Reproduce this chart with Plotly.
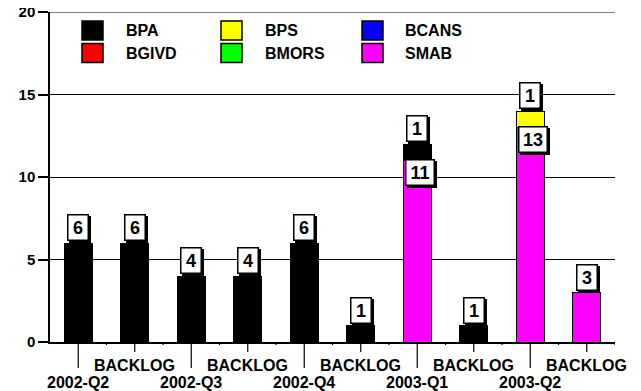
import plotly.graph_objects as go

CATEGORIES = ['2002-Q2', 'BACKLOG', '2002-Q3', 'BACKLOG', '2002-Q4',
              'BACKLOG', '2003-Q1', 'BACKLOG', '2003-Q2', 'BACKLOG']

# series values, one per category (stacking order bottom -> top)
SMAB = [0, 0, 0, 0, 0, 0, 11, 0, 13, 3]
BGIVD = [0, 0, 0, 0, 0, 0, 0, 0, 0, 0]
BMORS = [0, 0, 0, 0, 0, 0, 0, 0, 0, 0]
BCANS = [0, 0, 0, 0, 0, 0, 0, 0, 0, 0]
BPS = [0, 0, 0, 0, 0, 0, 0, 0, 1, 0]
BPA = [6, 6, 4, 4, 6, 1, 1, 1, 0, 0]

STACK_NAMES = ['SMAB', 'BGIVD', 'BMORS', 'BCANS', 'BPS', 'BPA']
STACK_VALUES = [SMAB, BGIVD, BMORS, BCANS, BPS, BPA]
COLORS = {'BPA': '#000000', 'BPS': '#ffff00', 'BCANS': '#0000ff',
          'BGIVD': '#ff0000', 'BMORS': '#00ff00', 'SMAB': '#ff00ff'}
LEGEND_ROWS = [['BPA', 'BPS', 'BCANS'], ['BGIVD', 'BMORS', 'SMAB']]

Y_TICKS = [0, 5, 10, 15, 20]

# the page body has an 8px margin, so the figure is shrunk by that much
PAGE_OFF = 8
W, H = 641 - PAGE_OFF, 391 - PAGE_OFF
L, R, T, B = 50 - PAGE_OFF, 26, 12 - PAGE_OFF, 49
PW, PH = W - L - R, H - T - B

FONT = 'Liberation Sans'


def px_x(p):
    # screen pixel -> paper x
    return (p - PAGE_OFF - L) / PW


def px_y(p):
    # screen pixel -> paper y
    return (H - B - (p - PAGE_OFF)) / PH


xs = list(range(len(CATEGORIES)))

fig = go.Figure()
for name, vals in zip(STACK_NAMES, STACK_VALUES):
    fig.add_trace(go.Bar(
        x=xs,
        y=[v if v else None for v in vals],
        name=name,
        width=0.5,
        marker=dict(color=COLORS[name], line=dict(color='black', width=1)),
        showlegend=False,
    ))

annotations = []
shapes = []

# top gridline (plotly skips the one on the range edge)
shapes.append(dict(type='line', xref='paper', yref='y', x0=0, x1=1,
                   y0=Y_TICKS[-1], y1=Y_TICKS[-1],
                   line=dict(color='black', width=1)))

# value boxes
for i in xs:
    segs = [(n, v[i]) for n, v in zip(STACK_NAMES, STACK_VALUES) if v[i]]
    base = 0
    for k, (n, v) in enumerate(segs):
        top = base + v
        base = top
        is_top = k == len(segs) - 1
        txt = str(v)
        common = dict(x=i, y=top, xref='x', yref='y', text=txt,
                      showarrow=False, width=8 * len(txt) + 7, height=20,
                      borderwidth=1.5, borderpad=2,
                      yanchor='bottom' if is_top else 'top',
                      font=dict(family=FONT, size=18, weight='bold',
                                color='black'))
        xs_off = 0 if is_top else 3
        ys_off = 2
        # drop shadow
        annotations.append(dict(common, xshift=xs_off + 2, yshift=ys_off - 2,
                                bgcolor='black', bordercolor='black'))
        annotations.append(dict(common, xshift=xs_off, yshift=ys_off,
                                bgcolor='white', bordercolor='black'))

# x tick marks and staggered labels
for i, lab in enumerate(CATEGORIES):
    is_quarter = lab != 'BACKLOG'
    tlen = 26 if is_quarter else 10
    shapes.append(dict(type='line', xref='x', yref='paper', x0=i, x1=i,
                       y0=0, y1=-tlen / PH, line=dict(color='black', width=1.2)))
    annotations.append(dict(x=i, y=0, xref='x', yref='paper', text=lab,
                            showarrow=False, yanchor='top',
                            yshift=-30 if is_quarter else -13,
                            font=dict(family=FONT, size=16, weight='bold',
                                      color='black')))
for i in xs:
    shapes.append(dict(type='line', xref='x', yref='paper', x0=i + 0.5,
                       x1=i + 0.5, y0=0, y1=-3 / PH,
                       line=dict(color='black', width=1.2)))

# legend
col_sw = [82, 221, 362]
col_tx = [124, 263, 403]
row_cy = [30.5, 53]
for r, row in enumerate(LEGEND_ROWS):
    for c, name in enumerate(row):
        shapes.append(dict(type='rect', xref='paper', yref='paper',
                           x0=px_x(col_sw[c]), x1=px_x(col_sw[c] + 21),
                           y0=px_y(row_cy[r] - 9.5), y1=px_y(row_cy[r] + 9.5),
                           fillcolor=COLORS[name],
                           line=dict(color='black', width=1.5)))
        annotations.append(dict(x=px_x(col_tx[c]), y=px_y(row_cy[r]),
                                xref='paper', yref='paper', text=name,
                                showarrow=False, xanchor='left',
                                yanchor='middle',
                                font=dict(family=FONT, size=16, weight='bold',
                                          color='black')))

fig.update_layout(
    width=W, height=H,
    margin=dict(l=L, r=R, t=T, b=B),
    barmode='stack',
    plot_bgcolor='white',
    paper_bgcolor='white',
    showlegend=False,
    xaxis=dict(range=[-0.5, len(CATEGORIES) - 0.5], showline=True,
               linecolor='black', linewidth=1.5, showgrid=False,
               zeroline=False, showticklabels=False, ticks='',
               automargin=False),
    yaxis=dict(range=[0, 20], tickvals=Y_TICKS, showgrid=True,
               gridcolor='black', gridwidth=1, showline=True,
               linecolor='black', linewidth=1.5, zeroline=False,
               ticks='outside', ticklen=10, tickwidth=1.5,
               tickcolor='black', automargin=False,
               ticklabeloverflow='allow',
               tickfont=dict(family=FONT, size=15, weight='bold',
                             color='black')),
    annotations=annotations,
    shapes=shapes,
)

fig.write_html('out.html')
